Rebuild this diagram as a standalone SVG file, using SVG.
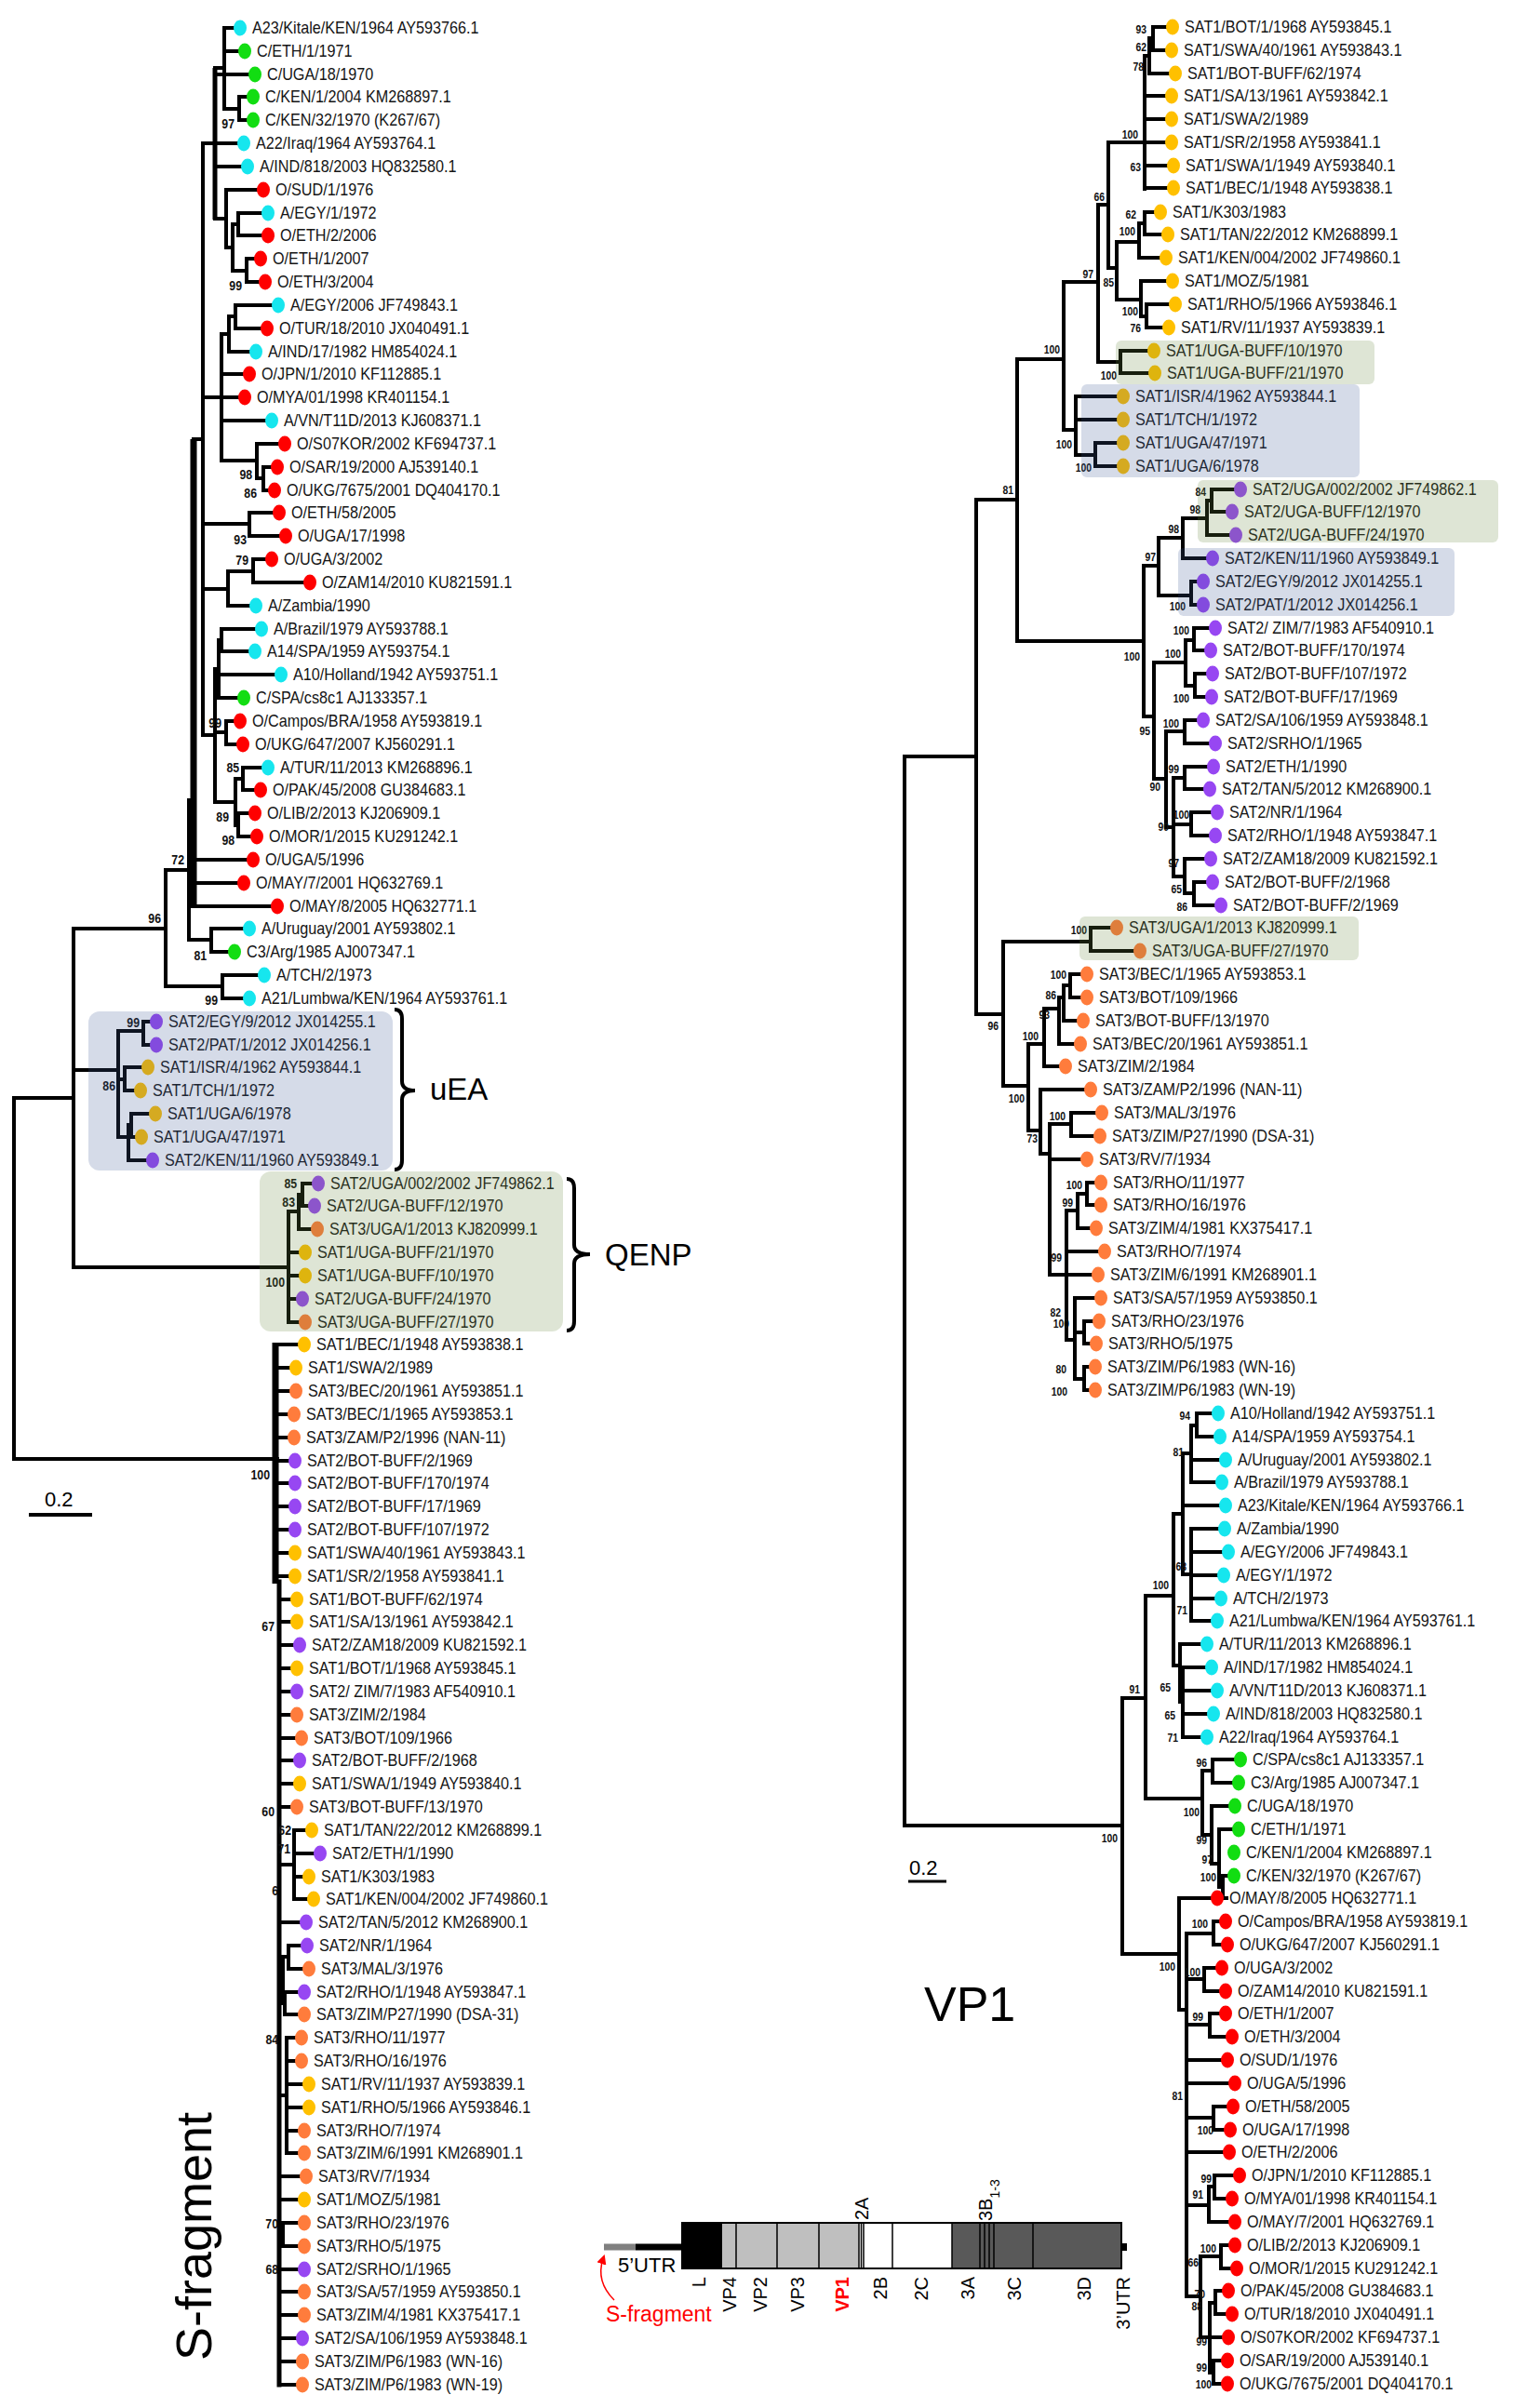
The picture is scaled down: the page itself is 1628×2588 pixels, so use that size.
<svg xmlns="http://www.w3.org/2000/svg" xmlns:xlink="http://www.w3.org/1999/xlink" width="1628" height="2588" viewBox="0 0 1628 2588">
<style>
text{font-family:"Liberation Sans",Arial,sans-serif}
.lf text{font-size:18px;fill:#151515;transform-box:fill-box;transform-origin:0 50%;transform:scaleX(.9)}
.bs{font-size:14.5px;font-weight:bold;text-anchor:end;fill:#111;transform-box:fill-box;transform-origin:100% 50%;transform:scaleX(.85)}
.bsr{font-size:13px;font-weight:bold;text-anchor:end;fill:#111;transform-box:fill-box;transform-origin:100% 50%;transform:scaleX(.8)}
.br{fill:none;stroke:#000;stroke-width:4;stroke-linecap:square}
.bk{fill:none;stroke:#000;stroke-width:7}
.cy{fill:#16e6ee}.gr{fill:#12dd12}.rd{fill:#ff0000}.pu{fill:#9747f2}.ye{fill:#ffc000}.or{fill:#ff7c3c}
.ub{fill:#3e5a96;fill-opacity:.22}
.qb{fill:#698a3e;fill-opacity:.22}
.gl{font-size:20px;fill:#000}
.big{font-size:33px;fill:#000}
.sec{stroke:#000;stroke-width:1.5}
</style>
<defs>
<ellipse id="d" rx="7" ry="8.5"/>
<marker id="ah" viewBox="0 0 10 10" refX="5" refY="5" markerWidth="7" markerHeight="7" orient="auto-start-reverse"><path d="M0 0L10 5L0 10z" fill="#ff0000"/></marker>
</defs>
<rect width="1628" height="2588" fill="#fff"/>

<g id="connectors">
<path class="br" d="M15 1180V1568M15 1180H79M15 1568H298M79 998V1362M79 998H178M79 1150H127M79 1362H310M178 935V1060M178 935H203M178 1060H239M239 1048V1073M239 1048H276M239 1073H260M203 860V1010M203 860H208M203 1010H227M227 998V1023M227 998H260M227 1023H244"/>
<path class="bk" d="M208 472V976"/>
<path class="br" d="M208 924H264M208 949H254M208 974H290M208 472H218M218 154V790M218 154H231M218 427H238M218 563H268M218 633H245M218 790H231"/>
<path class="bk" d="M231 73V236" style="stroke-width:5"/>
<path class="br" d="M231 73H241M231 80H266M231 154H254M231 179H258M231 235H243M241 30V117M241 30H250M241 55H255M241 117H257M257 104V129M257 104H264M257 129H264"/>
<path class="br" d="M243 204V266M243 204H275M243 266H250M250 241V291M250 241H256M256 229V253M256 229H280M256 253H280M250 291H265M265 278V303M265 278H272M265 303H277"/>
<path class="br" d="M238 359V495M238 359H246M246 340V378M246 340H253M253 328V353M253 328H291M253 353H279M246 378H267M238 402H260M238 427H255M238 452H284M238 495H276M276 477V514M276 477H298M276 514H283M283 502V527M283 502H290M283 527H287"/>
<path class="br" d="M268 551V576M268 551H292M268 576H299M245 614V651M245 614H272M272 601V626M272 601H284M272 626H325M245 651H267"/>
<path class="br" d="M231 719V862M231 719H235M235 688V750M235 688H238M238 676V700M238 676H273M238 700H266M235 725H294M235 750H254M231 787H243M243 775V800M243 775H250M243 800H253M231 862H253M253 837V887M253 837H261M261 825V849M261 825H280M261 849H272M253 887H256M256 874V899M256 874H266M256 899H268"/>
<path class="br" d="M127 1108V1222M127 1108H154M154 1098V1123M154 1098H160M154 1123H160M127 1160H134M134 1147V1172M134 1147H151M134 1172H143M127 1222H138M138 1209V1247M138 1209H141M141 1197V1222M141 1197H159M141 1222H144M138 1247H156"/>
<path class="br" d="M310 1302V1421M310 1302H321M321 1284V1321M321 1284H325M325 1272V1296M325 1272H334M325 1296H330M321 1321H333M310 1346H320M310 1371H320M310 1396H317M310 1421H320"/>
<path class="bk" d="M296 1443V1702"/>
<path class="br" d="M300 1700V2563" style="stroke-width:5"/>
<path class="br" d="M296 1445H319M296 1470H310M296 1495H310M296 1520H308M296 1545H308M296 1570H309M296 1594H309M296 1619H309M296 1644H309M296 1669H309M296 1694H309M300 1719H311M300 1743H311M300 1768H314M300 1793H311M300 1818H311M300 1843H311M300 1868H316M300 1892H314M300 1917H314M300 1942H311"/>
<path class="br" d="M300 2004H316M316 1967V2041M316 1967H327M316 1992H336M316 2017H324M316 2041H329M300 2066H321M300 2128H304M304 2103V2153M304 2103H310M310 2091V2116M310 2091H322M310 2116H324M304 2153H306M306 2141V2165M306 2141H319M306 2165H319"/>
<path class="br" d="M300 2252H308M308 2190V2314M308 2190H316M308 2215H316M308 2240H324M308 2265H324M308 2290H319M308 2314H319M300 2339H321M300 2364H319M300 2401H304M304 2389V2414M304 2389H319M304 2414H319M300 2439H319M300 2463H319M300 2488H319M300 2513H317M300 2538H317M300 2563H317"/>
<path class="br" d="M972 813V1962M972 813H1049M972 1962H1206M1049 537V1090M1049 537H1093M1049 1090H1078M1093 386V689M1093 386H1143M1093 689H1229M1143 303V462M1143 303H1180M1143 462H1156M1180 220V389M1180 220H1191M1180 389H1204M1191 153V288M1191 153H1230M1191 288H1200"/>
<path class="br" d="M1230 60V203M1230 60H1235M1235 41V79M1235 41H1239M1239 29V54M1239 29H1252M1239 54H1251M1235 79H1255M1230 103H1251M1230 128H1251M1230 153H1251M1230 178H1253M1230 202H1253"/>
<path class="br" d="M1200 260V322M1200 260H1224M1200 322H1226M1224 240V277M1224 240H1230M1230 228V252M1230 228H1239M1230 252H1247M1224 277H1245M1226 302V340M1226 302H1252M1226 340H1232M1232 327V352M1232 327H1255M1232 352H1248"/>
<path class="br" d="M1204 377V401M1204 377H1232M1204 401H1233M1156 426V489M1156 426H1199M1156 451H1199M1156 489H1177M1177 476V501M1177 476H1199M1177 501H1199"/>
<path class="br" d="M1229 608V770M1229 608H1245M1229 770H1240M1245 578V640M1245 578H1271M1245 640H1280M1271 557V600M1271 557H1297M1271 600H1295M1297 538V575M1297 538H1302M1297 575H1320M1302 526V550M1302 526H1325M1302 550H1316M1280 625V650M1280 625H1285M1280 650H1285"/>
<path class="br" d="M1240 712V837M1240 712H1274M1240 837H1253M1274 688V737M1274 688H1283M1274 737H1284M1283 675V699M1283 675H1298M1283 699H1293M1284 724V749M1284 724H1295M1284 749H1294M1253 786V889M1253 786H1273M1253 889H1261M1273 774V799M1273 774H1285M1273 799H1298M1261 836V942M1261 836H1273M1261 886H1280M1261 942H1273M1273 824V848M1273 824H1296M1273 848H1292M1280 873V898M1280 873H1300M1280 898H1298M1273 923V960M1273 923H1293M1273 960H1283M1283 948V973M1283 948H1295M1283 973H1304"/>
<path class="br" d="M1078 1012V1167M1078 1012H1172M1078 1167H1105M1172 997V1022M1172 997H1192M1172 1022H1217M1105 1122V1215M1105 1122H1122M1105 1215H1118M1122 1084V1146M1122 1084H1138M1122 1146H1137M1138 1072V1122M1138 1072H1143M1138 1122H1153M1143 1059V1097M1143 1059H1150M1143 1097H1156M1150 1047V1072M1150 1047H1160M1150 1072H1160"/>
<path class="br" d="M1118 1171V1240M1118 1171H1164M1118 1240H1128M1128 1208V1370M1128 1208H1151M1128 1246H1160M1128 1370H1146M1151 1196V1221M1151 1196H1176M1151 1221H1174M1146 1301V1440M1146 1301H1158M1146 1345H1179M1146 1370H1172M1146 1440H1155M1158 1283V1320M1158 1283H1168M1158 1320H1170M1168 1271V1295M1168 1271H1175M1168 1295H1175M1155 1395V1482M1155 1395H1175M1155 1432H1165M1155 1482H1165M1165 1420V1444M1165 1420H1173M1165 1444H1170M1165 1469V1494M1165 1469H1169M1165 1494H1169"/>
<path class="br" d="M1206 1825V2100M1206 1825H1231M1206 2100H1267M1231 1715V1933M1231 1715H1261M1231 1933H1292M1261 1627V1790M1261 1627H1271M1261 1790H1268M1271 1562V1692M1271 1562H1280M1271 1618H1309M1271 1692H1280M1280 1532V1593M1280 1532H1286M1280 1569H1309M1280 1593H1305M1286 1519V1544M1286 1519H1301M1286 1544H1303M1280 1643V1742M1280 1643H1308M1280 1668H1312M1280 1693H1307M1280 1718H1304M1280 1742H1300M1268 1767V1829M1268 1767H1289M1268 1829H1271M1271 1792V1867M1271 1792H1294M1271 1817H1300M1271 1842H1296M1271 1867H1289"/>
<path class="br" d="M1292 1903V1972M1292 1903H1303M1292 1972H1302M1303 1891V1916M1303 1891H1325M1303 1916H1323M1302 1941V2003M1302 1941H1319M1302 2003H1310M1310 1966V2028M1310 1966H1323M1310 2028H1314M1314 2016V2040M1314 2016H1318M1314 2040H1318"/>
<path class="br" d="M1267 2040V2160M1267 2040H1300M1267 2160H1275M1275 2078V2468M1275 2078H1304M1275 2127H1294M1275 2176H1300M1275 2214H1311M1275 2239H1319M1275 2276H1304M1275 2313H1313M1275 2370H1299M1275 2468H1290M1304 2065V2090M1304 2065H1309M1304 2090H1311M1294 2115V2140M1294 2115H1305M1294 2140H1309M1300 2164V2189M1300 2164H1309M1300 2189H1316M1304 2264V2289M1304 2264H1317M1304 2289H1314M1299 2350V2388M1299 2350H1305M1299 2388H1319M1305 2338V2363M1305 2338H1324M1305 2363H1316"/>
<path class="br" d="M1290 2425V2512M1290 2425H1312M1290 2512H1300M1312 2413V2438M1312 2413H1319M1312 2438H1321M1300 2475V2550M1300 2475H1306M1300 2512H1312M1300 2550H1304M1306 2462V2487M1306 2462H1312M1306 2487H1316M1304 2537V2562M1304 2537H1311M1304 2562H1311"/>
</g>

<g id="bootstrap-left">
<text class="bs" x="252" y="138">97</text><text class="bs" x="260" y="312">99</text><text class="bs" x="271" y="515">98</text><text class="bs" x="276" y="535">86</text><text class="bs" x="265" y="585">93</text><text class="bs" x="267" y="607">79</text><text class="bs" x="238" y="782">99</text><text class="bs" x="257" y="830">85</text><text class="bs" x="246" y="883">89</text><text class="bs" x="252" y="908">98</text><text class="bs" x="198" y="929">72</text><text class="bs" x="173" y="992">96</text><text class="bs" x="222" y="1032">81</text><text class="bs" x="234" y="1080">99</text>
<text class="bs" x="150" y="1104">99</text><text class="bs" x="124" y="1172">86</text><text class="bs" x="319" y="1277">85</text><text class="bs" x="317" y="1297">83</text><text class="bs" x="306" y="1383">100</text>
<text class="bs" x="290" y="1590">100</text><text class="bs" x="295" y="1753">67</text><text class="bs" x="295" y="1952">60</text><text class="bs" x="313" y="1972">62</text><text class="bs" x="312" y="1992">71</text><text class="bs" x="299" y="2037">6</text><text class="bs" x="299" y="2197">84</text><text class="bs" x="299" y="2395">70</text><text class="bs" x="299" y="2444">68</text>
</g>

<g id="bootstrap-right">
<text class="bsr" x="1232" y="36">93</text><text class="bsr" x="1232" y="55">62</text><text class="bsr" x="1229" y="76">78</text><text class="bsr" x="1223" y="149">100</text><text class="bsr" x="1226" y="184">63</text><text class="bsr" x="1187" y="216">66</text><text class="bsr" x="1221" y="235">62</text><text class="bsr" x="1220" y="253">100</text><text class="bsr" x="1175" y="299">97</text><text class="bsr" x="1197" y="308">85</text><text class="bsr" x="1223" y="339">100</text><text class="bsr" x="1226" y="357">76</text><text class="bsr" x="1139" y="380">100</text><text class="bsr" x="1200" y="408">100</text><text class="bsr" x="1152" y="482">100</text><text class="bsr" x="1173" y="507">100</text>
<text class="bsr" x="1089" y="531">81</text><text class="bsr" x="1296" y="533">84</text><text class="bsr" x="1290" y="552">98</text><text class="bsr" x="1267" y="573">98</text><text class="bsr" x="1242" y="603">97</text><text class="bsr" x="1274" y="656">100</text><text class="bsr" x="1278" y="682">100</text><text class="bsr" x="1225" y="710">100</text><text class="bsr" x="1269" y="707">100</text><text class="bsr" x="1278" y="755">100</text><text class="bsr" x="1267" y="782">100</text><text class="bsr" x="1236" y="790">95</text><text class="bsr" x="1267" y="831">99</text><text class="bsr" x="1247" y="850">90</text><text class="bsr" x="1278" y="880">100</text><text class="bsr" x="1256" y="893">90</text><text class="bsr" x="1267" y="932">97</text><text class="bsr" x="1270" y="960">65</text><text class="bsr" x="1276" y="979">86</text>
<text class="bsr" x="1168" y="1004">100</text><text class="bsr" x="1146" y="1052">100</text><text class="bsr" x="1135" y="1074">86</text><text class="bsr" x="1128" y="1095">93</text><text class="bsr" x="1073" y="1107">96</text><text class="bsr" x="1116" y="1118">100</text><text class="bsr" x="1101" y="1185">100</text><text class="bsr" x="1145" y="1204">100</text><text class="bsr" x="1115" y="1228">73</text><text class="bsr" x="1163" y="1278">100</text><text class="bsr" x="1153" y="1297">99</text><text class="bsr" x="1141" y="1356">99</text><text class="bsr" x="1140" y="1415">82</text><text class="bsr" x="1149" y="1427">100</text><text class="bsr" x="1146" y="1476">80</text><text class="bsr" x="1147" y="1500">100</text>
<text class="bsr" x="1279" y="1526">94</text><text class="bsr" x="1272" y="1565">81</text><text class="bsr" x="1275" y="1688">68</text><text class="bsr" x="1256" y="1708">100</text><text class="bsr" x="1276" y="1735">71</text><text class="bsr" x="1225" y="1820">91</text><text class="bsr" x="1258" y="1818">65</text><text class="bsr" x="1263" y="1848">65</text><text class="bsr" x="1266" y="1872">71</text><text class="bsr" x="1297" y="1899">96</text><text class="bsr" x="1289" y="1952">100</text><text class="bsr" x="1201" y="1980">100</text><text class="bsr" x="1297" y="1982">99</text><text class="bsr" x="1303" y="2003">97</text><text class="bsr" x="1307" y="2022">100</text>
<text class="bsr" x="1298" y="2072">100</text><text class="bsr" x="1263" y="2118">100</text><text class="bsr" x="1290" y="2124">100</text><text class="bsr" x="1293" y="2172">99</text><text class="bsr" x="1271" y="2257">81</text><text class="bsr" x="1304" y="2294">100</text><text class="bsr" x="1302" y="2346">99</text><text class="bsr" x="1293" y="2363">91</text><text class="bsr" x="1307" y="2421">100</text><text class="bsr" x="1288" y="2436">66</text><text class="bsr" x="1295" y="2470">70</text><text class="bsr" x="1292" y="2483">88</text><text class="bsr" x="1297" y="2521">99</text><text class="bsr" x="1297" y="2549">99</text><text class="bsr" x="1302" y="2567">100</text>
</g>

<g id="L1" class="lf cy"><use href="#d" x="258" y="30"/><text x="271" y="36">A23/Kitale/KEN/1964 AY593766.1</text></g>
<g id="L2" class="lf gr"><use href="#d" x="263" y="55"/><text x="276" y="61">C/ETH/1/1971</text></g>
<g id="L3" class="lf gr"><use href="#d" x="274" y="80"/><text x="287" y="86">C/UGA/18/1970</text></g>
<g id="L4" class="lf gr"><use href="#d" x="272" y="104"/><text x="285" y="110">C/KEN/1/2004 KM268897.1</text></g>
<g id="L5" class="lf gr"><use href="#d" x="272" y="129"/><text x="285" y="135">C/KEN/32/1970 (K267/67)</text></g>
<g id="L6" class="lf cy"><use href="#d" x="262" y="154"/><text x="275" y="160">A22/Iraq/1964 AY593764.1</text></g>
<g id="L7" class="lf cy"><use href="#d" x="266" y="179"/><text x="279" y="185">A/IND/818/2003 HQ832580.1</text></g>
<g id="L8" class="lf rd"><use href="#d" x="283" y="204"/><text x="296" y="210">O/SUD/1/1976</text></g>
<g id="L9" class="lf cy"><use href="#d" x="288" y="229"/><text x="301" y="235">A/EGY/1/1972</text></g>
<g id="L10" class="lf rd"><use href="#d" x="288" y="253"/><text x="301" y="259">O/ETH/2/2006</text></g>
<g id="L11" class="lf rd"><use href="#d" x="280" y="278"/><text x="293" y="284">O/ETH/1/2007</text></g>
<g id="L12" class="lf rd"><use href="#d" x="285" y="303"/><text x="298" y="309">O/ETH/3/2004</text></g>
<g id="L13" class="lf cy"><use href="#d" x="299" y="328"/><text x="312" y="334">A/EGY/2006 JF749843.1</text></g>
<g id="L14" class="lf rd"><use href="#d" x="287" y="353"/><text x="300" y="359">O/TUR/18/2010 JX040491.1</text></g>
<g id="L15" class="lf cy"><use href="#d" x="275" y="378"/><text x="288" y="384">A/IND/17/1982 HM854024.1</text></g>
<g id="L16" class="lf rd"><use href="#d" x="268" y="402"/><text x="281" y="408">O/JPN/1/2010 KF112885.1</text></g>
<g id="L17" class="lf rd"><use href="#d" x="263" y="427"/><text x="276" y="433">O/MYA/01/1998 KR401154.1</text></g>
<g id="L18" class="lf cy"><use href="#d" x="292" y="452"/><text x="305" y="458">A/VN/T11D/2013 KJ608371.1</text></g>
<g id="L19" class="lf rd"><use href="#d" x="306" y="477"/><text x="319" y="483">O/S07KOR/2002 KF694737.1</text></g>
<g id="L20" class="lf rd"><use href="#d" x="298" y="502"/><text x="311" y="508">O/SAR/19/2000 AJ539140.1</text></g>
<g id="L21" class="lf rd"><use href="#d" x="295" y="527"/><text x="308" y="533">O/UKG/7675/2001 DQ404170.1</text></g>
<g id="L22" class="lf rd"><use href="#d" x="300" y="551"/><text x="313" y="557">O/ETH/58/2005</text></g>
<g id="L23" class="lf rd"><use href="#d" x="307" y="576"/><text x="320" y="582">O/UGA/17/1998</text></g>
<g id="L24" class="lf rd"><use href="#d" x="292" y="601"/><text x="305" y="607">O/UGA/3/2002</text></g>
<g id="L25" class="lf rd"><use href="#d" x="333" y="626"/><text x="346" y="632">O/ZAM14/2010 KU821591.1</text></g>
<g id="L26" class="lf cy"><use href="#d" x="275" y="651"/><text x="288" y="657">A/Zambia/1990</text></g>
<g id="L27" class="lf cy"><use href="#d" x="281" y="676"/><text x="294" y="682">A/Brazil/1979 AY593788.1</text></g>
<g id="L28" class="lf cy"><use href="#d" x="274" y="700"/><text x="287" y="706">A14/SPA/1959 AY593754.1</text></g>
<g id="L29" class="lf cy"><use href="#d" x="302" y="725"/><text x="315" y="731">A10/Holland/1942 AY593751.1</text></g>
<g id="L30" class="lf gr"><use href="#d" x="262" y="750"/><text x="275" y="756">C/SPA/cs8c1 AJ133357.1</text></g>
<g id="L31" class="lf rd"><use href="#d" x="258" y="775"/><text x="271" y="781">O/Campos/BRA/1958 AY593819.1</text></g>
<g id="L32" class="lf rd"><use href="#d" x="261" y="800"/><text x="274" y="806">O/UKG/647/2007 KJ560291.1</text></g>
<g id="L33" class="lf cy"><use href="#d" x="288" y="825"/><text x="301" y="831">A/TUR/11/2013 KM268896.1</text></g>
<g id="L34" class="lf rd"><use href="#d" x="280" y="849"/><text x="293" y="855">O/PAK/45/2008 GU384683.1</text></g>
<g id="L35" class="lf rd"><use href="#d" x="274" y="874"/><text x="287" y="880">O/LIB/2/2013 KJ206909.1</text></g>
<g id="L36" class="lf rd"><use href="#d" x="276" y="899"/><text x="289" y="905">O/MOR/1/2015 KU291242.1</text></g>
<g id="L37" class="lf rd"><use href="#d" x="272" y="924"/><text x="285" y="930">O/UGA/5/1996</text></g>
<g id="L38" class="lf rd"><use href="#d" x="262" y="949"/><text x="275" y="955">O/MAY/7/2001 HQ632769.1</text></g>
<g id="L39" class="lf rd"><use href="#d" x="298" y="974"/><text x="311" y="980">O/MAY/8/2005 HQ632771.1</text></g>
<g id="L40" class="lf cy"><use href="#d" x="268" y="998"/><text x="281" y="1004">A/Uruguay/2001 AY593802.1</text></g>
<g id="L41" class="lf gr"><use href="#d" x="252" y="1023"/><text x="265" y="1029">C3/Arg/1985 AJ007347.1</text></g>
<g id="L42" class="lf cy"><use href="#d" x="284" y="1048"/><text x="297" y="1054">A/TCH/2/1973</text></g>
<g id="L43" class="lf cy"><use href="#d" x="268" y="1073"/><text x="281" y="1079">A21/Lumbwa/KEN/1964 AY593761.1</text></g>
<g id="L44" class="lf pu"><use href="#d" x="168" y="1098"/><text x="181" y="1104">SAT2/EGY/9/2012 JX014255.1</text></g>
<g id="L45" class="lf pu"><use href="#d" x="168" y="1123"/><text x="181" y="1129">SAT2/PAT/1/2012 JX014256.1</text></g>
<g id="L46" class="lf ye"><use href="#d" x="159" y="1147"/><text x="172" y="1153">SAT1/ISR/4/1962 AY593844.1</text></g>
<g id="L47" class="lf ye"><use href="#d" x="151" y="1172"/><text x="164" y="1178">SAT1/TCH/1/1972</text></g>
<g id="L48" class="lf ye"><use href="#d" x="167" y="1197"/><text x="180" y="1203">SAT1/UGA/6/1978</text></g>
<g id="L49" class="lf ye"><use href="#d" x="152" y="1222"/><text x="165" y="1228">SAT1/UGA/47/1971</text></g>
<g id="L50" class="lf pu"><use href="#d" x="164" y="1247"/><text x="177" y="1253">SAT2/KEN/11/1960 AY593849.1</text></g>
<g id="L51" class="lf pu"><use href="#d" x="342" y="1272"/><text x="355" y="1278">SAT2/UGA/002/2002 JF749862.1</text></g>
<g id="L52" class="lf pu"><use href="#d" x="338" y="1296"/><text x="351" y="1302">SAT2/UGA-BUFF/12/1970</text></g>
<g id="L53" class="lf or"><use href="#d" x="341" y="1321"/><text x="354" y="1327">SAT3/UGA/1/2013 KJ820999.1</text></g>
<g id="L54" class="lf ye"><use href="#d" x="328" y="1346"/><text x="341" y="1352">SAT1/UGA-BUFF/21/1970</text></g>
<g id="L55" class="lf ye"><use href="#d" x="328" y="1371"/><text x="341" y="1377">SAT1/UGA-BUFF/10/1970</text></g>
<g id="L56" class="lf pu"><use href="#d" x="325" y="1396"/><text x="338" y="1402">SAT2/UGA-BUFF/24/1970</text></g>
<g id="L57" class="lf or"><use href="#d" x="328" y="1421"/><text x="341" y="1427">SAT3/UGA-BUFF/27/1970</text></g>
<g id="L58" class="lf ye"><use href="#d" x="327" y="1445"/><text x="340" y="1451">SAT1/BEC/1/1948 AY593838.1</text></g>
<g id="L59" class="lf ye"><use href="#d" x="318" y="1470"/><text x="331" y="1476">SAT1/SWA/2/1989</text></g>
<g id="L60" class="lf or"><use href="#d" x="318" y="1495"/><text x="331" y="1501">SAT3/BEC/20/1961 AY593851.1</text></g>
<g id="L61" class="lf or"><use href="#d" x="316" y="1520"/><text x="329" y="1526">SAT3/BEC/1/1965 AY593853.1</text></g>
<g id="L62" class="lf or"><use href="#d" x="316" y="1545"/><text x="329" y="1551">SAT3/ZAM/P2/1996 (NAN-11)</text></g>
<g id="L63" class="lf pu"><use href="#d" x="317" y="1570"/><text x="330" y="1576">SAT2/BOT-BUFF/2/1969</text></g>
<g id="L64" class="lf pu"><use href="#d" x="317" y="1594"/><text x="330" y="1600">SAT2/BOT-BUFF/170/1974</text></g>
<g id="L65" class="lf pu"><use href="#d" x="317" y="1619"/><text x="330" y="1625">SAT2/BOT-BUFF/17/1969</text></g>
<g id="L66" class="lf pu"><use href="#d" x="317" y="1644"/><text x="330" y="1650">SAT2/BOT-BUFF/107/1972</text></g>
<g id="L67" class="lf ye"><use href="#d" x="317" y="1669"/><text x="330" y="1675">SAT1/SWA/40/1961 AY593843.1</text></g>
<g id="L68" class="lf ye"><use href="#d" x="317" y="1694"/><text x="330" y="1700">SAT1/SR/2/1958 AY593841.1</text></g>
<g id="L69" class="lf ye"><use href="#d" x="319" y="1719"/><text x="332" y="1725">SAT1/BOT-BUFF/62/1974</text></g>
<g id="L70" class="lf ye"><use href="#d" x="319" y="1743"/><text x="332" y="1749">SAT1/SA/13/1961 AY593842.1</text></g>
<g id="L71" class="lf pu"><use href="#d" x="322" y="1768"/><text x="335" y="1774">SAT2/ZAM18/2009 KU821592.1</text></g>
<g id="L72" class="lf ye"><use href="#d" x="319" y="1793"/><text x="332" y="1799">SAT1/BOT/1/1968 AY593845.1</text></g>
<g id="L73" class="lf pu"><use href="#d" x="319" y="1818"/><text x="332" y="1824">SAT2/ ZIM/7/1983 AF540910.1</text></g>
<g id="L74" class="lf or"><use href="#d" x="319" y="1843"/><text x="332" y="1849">SAT3/ZIM/2/1984</text></g>
<g id="L75" class="lf or"><use href="#d" x="324" y="1868"/><text x="337" y="1874">SAT3/BOT/109/1966</text></g>
<g id="L76" class="lf pu"><use href="#d" x="322" y="1892"/><text x="335" y="1898">SAT2/BOT-BUFF/2/1968</text></g>
<g id="L77" class="lf ye"><use href="#d" x="322" y="1917"/><text x="335" y="1923">SAT1/SWA/1/1949 AY593840.1</text></g>
<g id="L78" class="lf or"><use href="#d" x="319" y="1942"/><text x="332" y="1948">SAT3/BOT-BUFF/13/1970</text></g>
<g id="L79" class="lf ye"><use href="#d" x="335" y="1967"/><text x="348" y="1973">SAT1/TAN/22/2012 KM268899.1</text></g>
<g id="L80" class="lf pu"><use href="#d" x="344" y="1992"/><text x="357" y="1998">SAT2/ETH/1/1990</text></g>
<g id="L81" class="lf ye"><use href="#d" x="332" y="2017"/><text x="345" y="2023">SAT1/K303/1983</text></g>
<g id="L82" class="lf ye"><use href="#d" x="337" y="2041"/><text x="350" y="2047">SAT1/KEN/004/2002 JF749860.1</text></g>
<g id="L83" class="lf pu"><use href="#d" x="329" y="2066"/><text x="342" y="2072">SAT2/TAN/5/2012 KM268900.1</text></g>
<g id="L84" class="lf pu"><use href="#d" x="330" y="2091"/><text x="343" y="2097">SAT2/NR/1/1964</text></g>
<g id="L85" class="lf or"><use href="#d" x="332" y="2116"/><text x="345" y="2122">SAT3/MAL/3/1976</text></g>
<g id="L86" class="lf pu"><use href="#d" x="327" y="2141"/><text x="340" y="2147">SAT2/RHO/1/1948 AY593847.1</text></g>
<g id="L87" class="lf or"><use href="#d" x="327" y="2165"/><text x="340" y="2171">SAT3/ZIM/P27/1990 (DSA-31)</text></g>
<g id="L88" class="lf or"><use href="#d" x="324" y="2190"/><text x="337" y="2196">SAT3/RHO/11/1977</text></g>
<g id="L89" class="lf or"><use href="#d" x="324" y="2215"/><text x="337" y="2221">SAT3/RHO/16/1976</text></g>
<g id="L90" class="lf ye"><use href="#d" x="332" y="2240"/><text x="345" y="2246">SAT1/RV/11/1937 AY593839.1</text></g>
<g id="L91" class="lf ye"><use href="#d" x="332" y="2265"/><text x="345" y="2271">SAT1/RHO/5/1966 AY593846.1</text></g>
<g id="L92" class="lf or"><use href="#d" x="327" y="2290"/><text x="340" y="2296">SAT3/RHO/7/1974</text></g>
<g id="L93" class="lf or"><use href="#d" x="327" y="2314"/><text x="340" y="2320">SAT3/ZIM/6/1991 KM268901.1</text></g>
<g id="L94" class="lf or"><use href="#d" x="329" y="2339"/><text x="342" y="2345">SAT3/RV/7/1934</text></g>
<g id="L95" class="lf ye"><use href="#d" x="327" y="2364"/><text x="340" y="2370">SAT1/MOZ/5/1981</text></g>
<g id="L96" class="lf or"><use href="#d" x="327" y="2389"/><text x="340" y="2395">SAT3/RHO/23/1976</text></g>
<g id="L97" class="lf or"><use href="#d" x="327" y="2414"/><text x="340" y="2420">SAT3/RHO/5/1975</text></g>
<g id="L98" class="lf pu"><use href="#d" x="327" y="2439"/><text x="340" y="2445">SAT2/SRHO/1/1965</text></g>
<g id="L99" class="lf or"><use href="#d" x="327" y="2463"/><text x="340" y="2469">SAT3/SA/57/1959 AY593850.1</text></g>
<g id="L100" class="lf or"><use href="#d" x="327" y="2488"/><text x="340" y="2494">SAT3/ZIM/4/1981 KX375417.1</text></g>
<g id="L101" class="lf pu"><use href="#d" x="325" y="2513"/><text x="338" y="2519">SAT2/SA/106/1959 AY593848.1</text></g>
<g id="L102" class="lf or"><use href="#d" x="325" y="2538"/><text x="338" y="2544">SAT3/ZIM/P6/1983 (WN-16)</text></g>
<g id="L103" class="lf or"><use href="#d" x="325" y="2563"/><text x="338" y="2569">SAT3/ZIM/P6/1983 (WN-19)</text></g>

<g id="R1" class="lf ye"><use href="#d" x="1260" y="29"/><text x="1273" y="35">SAT1/BOT/1/1968 AY593845.1</text></g>
<g id="R2" class="lf ye"><use href="#d" x="1259" y="54"/><text x="1272" y="60">SAT1/SWA/40/1961 AY593843.1</text></g>
<g id="R3" class="lf ye"><use href="#d" x="1263" y="79"/><text x="1276" y="85">SAT1/BOT-BUFF/62/1974</text></g>
<g id="R4" class="lf ye"><use href="#d" x="1259" y="103"/><text x="1272" y="109">SAT1/SA/13/1961 AY593842.1</text></g>
<g id="R5" class="lf ye"><use href="#d" x="1259" y="128"/><text x="1272" y="134">SAT1/SWA/2/1989</text></g>
<g id="R6" class="lf ye"><use href="#d" x="1259" y="153"/><text x="1272" y="159">SAT1/SR/2/1958 AY593841.1</text></g>
<g id="R7" class="lf ye"><use href="#d" x="1261" y="178"/><text x="1274" y="184">SAT1/SWA/1/1949 AY593840.1</text></g>
<g id="R8" class="lf ye"><use href="#d" x="1261" y="202"/><text x="1274" y="208">SAT1/BEC/1/1948 AY593838.1</text></g>
<g id="R9" class="lf ye"><use href="#d" x="1247" y="228"/><text x="1260" y="234">SAT1/K303/1983</text></g>
<g id="R10" class="lf ye"><use href="#d" x="1255" y="252"/><text x="1268" y="258">SAT1/TAN/22/2012 KM268899.1</text></g>
<g id="R11" class="lf ye"><use href="#d" x="1253" y="277"/><text x="1266" y="283">SAT1/KEN/004/2002 JF749860.1</text></g>
<g id="R12" class="lf ye"><use href="#d" x="1260" y="302"/><text x="1273" y="308">SAT1/MOZ/5/1981</text></g>
<g id="R13" class="lf ye"><use href="#d" x="1263" y="327"/><text x="1276" y="333">SAT1/RHO/5/1966 AY593846.1</text></g>
<g id="R14" class="lf ye"><use href="#d" x="1256" y="352"/><text x="1269" y="358">SAT1/RV/11/1937 AY593839.1</text></g>
<g id="R15" class="lf ye"><use href="#d" x="1240" y="377"/><text x="1253" y="383">SAT1/UGA-BUFF/10/1970</text></g>
<g id="R16" class="lf ye"><use href="#d" x="1241" y="401"/><text x="1254" y="407">SAT1/UGA-BUFF/21/1970</text></g>
<g id="R17" class="lf ye"><use href="#d" x="1207" y="426"/><text x="1220" y="432">SAT1/ISR/4/1962 AY593844.1</text></g>
<g id="R18" class="lf ye"><use href="#d" x="1207" y="451"/><text x="1220" y="457">SAT1/TCH/1/1972</text></g>
<g id="R19" class="lf ye"><use href="#d" x="1207" y="476"/><text x="1220" y="482">SAT1/UGA/47/1971</text></g>
<g id="R20" class="lf ye"><use href="#d" x="1207" y="501"/><text x="1220" y="507">SAT1/UGA/6/1978</text></g>
<g id="R21" class="lf pu"><use href="#d" x="1333" y="526"/><text x="1346" y="532">SAT2/UGA/002/2002 JF749862.1</text></g>
<g id="R22" class="lf pu"><use href="#d" x="1324" y="550"/><text x="1337" y="556">SAT2/UGA-BUFF/12/1970</text></g>
<g id="R23" class="lf pu"><use href="#d" x="1328" y="575"/><text x="1341" y="581">SAT2/UGA-BUFF/24/1970</text></g>
<g id="R24" class="lf pu"><use href="#d" x="1303" y="600"/><text x="1316" y="606">SAT2/KEN/11/1960 AY593849.1</text></g>
<g id="R25" class="lf pu"><use href="#d" x="1293" y="625"/><text x="1306" y="631">SAT2/EGY/9/2012 JX014255.1</text></g>
<g id="R26" class="lf pu"><use href="#d" x="1293" y="650"/><text x="1306" y="656">SAT2/PAT/1/2012 JX014256.1</text></g>
<g id="R27" class="lf pu"><use href="#d" x="1306" y="675"/><text x="1319" y="681">SAT2/ ZIM/7/1983 AF540910.1</text></g>
<g id="R28" class="lf pu"><use href="#d" x="1301" y="699"/><text x="1314" y="705">SAT2/BOT-BUFF/170/1974</text></g>
<g id="R29" class="lf pu"><use href="#d" x="1303" y="724"/><text x="1316" y="730">SAT2/BOT-BUFF/107/1972</text></g>
<g id="R30" class="lf pu"><use href="#d" x="1302" y="749"/><text x="1315" y="755">SAT2/BOT-BUFF/17/1969</text></g>
<g id="R31" class="lf pu"><use href="#d" x="1293" y="774"/><text x="1306" y="780">SAT2/SA/106/1959 AY593848.1</text></g>
<g id="R32" class="lf pu"><use href="#d" x="1306" y="799"/><text x="1319" y="805">SAT2/SRHO/1/1965</text></g>
<g id="R33" class="lf pu"><use href="#d" x="1304" y="824"/><text x="1317" y="830">SAT2/ETH/1/1990</text></g>
<g id="R34" class="lf pu"><use href="#d" x="1300" y="848"/><text x="1313" y="854">SAT2/TAN/5/2012 KM268900.1</text></g>
<g id="R35" class="lf pu"><use href="#d" x="1308" y="873"/><text x="1321" y="879">SAT2/NR/1/1964</text></g>
<g id="R36" class="lf pu"><use href="#d" x="1306" y="898"/><text x="1319" y="904">SAT2/RHO/1/1948 AY593847.1</text></g>
<g id="R37" class="lf pu"><use href="#d" x="1301" y="923"/><text x="1314" y="929">SAT2/ZAM18/2009 KU821592.1</text></g>
<g id="R38" class="lf pu"><use href="#d" x="1303" y="948"/><text x="1316" y="954">SAT2/BOT-BUFF/2/1968</text></g>
<g id="R39" class="lf pu"><use href="#d" x="1312" y="973"/><text x="1325" y="979">SAT2/BOT-BUFF/2/1969</text></g>
<g id="R40" class="lf or"><use href="#d" x="1200" y="997"/><text x="1213" y="1003">SAT3/UGA/1/2013 KJ820999.1</text></g>
<g id="R41" class="lf or"><use href="#d" x="1225" y="1022"/><text x="1238" y="1028">SAT3/UGA-BUFF/27/1970</text></g>
<g id="R42" class="lf or"><use href="#d" x="1168" y="1047"/><text x="1181" y="1053">SAT3/BEC/1/1965 AY593853.1</text></g>
<g id="R43" class="lf or"><use href="#d" x="1168" y="1072"/><text x="1181" y="1078">SAT3/BOT/109/1966</text></g>
<g id="R44" class="lf or"><use href="#d" x="1164" y="1097"/><text x="1177" y="1103">SAT3/BOT-BUFF/13/1970</text></g>
<g id="R45" class="lf or"><use href="#d" x="1161" y="1122"/><text x="1174" y="1128">SAT3/BEC/20/1961 AY593851.1</text></g>
<g id="R46" class="lf or"><use href="#d" x="1145" y="1146"/><text x="1158" y="1152">SAT3/ZIM/2/1984</text></g>
<g id="R47" class="lf or"><use href="#d" x="1172" y="1171"/><text x="1185" y="1177">SAT3/ZAM/P2/1996 (NAN-11)</text></g>
<g id="R48" class="lf or"><use href="#d" x="1184" y="1196"/><text x="1197" y="1202">SAT3/MAL/3/1976</text></g>
<g id="R49" class="lf or"><use href="#d" x="1182" y="1221"/><text x="1195" y="1227">SAT3/ZIM/P27/1990 (DSA-31)</text></g>
<g id="R50" class="lf or"><use href="#d" x="1168" y="1246"/><text x="1181" y="1252">SAT3/RV/7/1934</text></g>
<g id="R51" class="lf or"><use href="#d" x="1183" y="1271"/><text x="1196" y="1277">SAT3/RHO/11/1977</text></g>
<g id="R52" class="lf or"><use href="#d" x="1183" y="1295"/><text x="1196" y="1301">SAT3/RHO/16/1976</text></g>
<g id="R53" class="lf or"><use href="#d" x="1178" y="1320"/><text x="1191" y="1326">SAT3/ZIM/4/1981 KX375417.1</text></g>
<g id="R54" class="lf or"><use href="#d" x="1187" y="1345"/><text x="1200" y="1351">SAT3/RHO/7/1974</text></g>
<g id="R55" class="lf or"><use href="#d" x="1180" y="1370"/><text x="1193" y="1376">SAT3/ZIM/6/1991 KM268901.1</text></g>
<g id="R56" class="lf or"><use href="#d" x="1183" y="1395"/><text x="1196" y="1401">SAT3/SA/57/1959 AY593850.1</text></g>
<g id="R57" class="lf or"><use href="#d" x="1181" y="1420"/><text x="1194" y="1426">SAT3/RHO/23/1976</text></g>
<g id="R58" class="lf or"><use href="#d" x="1178" y="1444"/><text x="1191" y="1450">SAT3/RHO/5/1975</text></g>
<g id="R59" class="lf or"><use href="#d" x="1177" y="1469"/><text x="1190" y="1475">SAT3/ZIM/P6/1983 (WN-16)</text></g>
<g id="R60" class="lf or"><use href="#d" x="1177" y="1494"/><text x="1190" y="1500">SAT3/ZIM/P6/1983 (WN-19)</text></g>
<g id="R61" class="lf cy"><use href="#d" x="1309" y="1519"/><text x="1322" y="1525">A10/Holland/1942 AY593751.1</text></g>
<g id="R62" class="lf cy"><use href="#d" x="1311" y="1544"/><text x="1324" y="1550">A14/SPA/1959 AY593754.1</text></g>
<g id="R63" class="lf cy"><use href="#d" x="1317" y="1569"/><text x="1330" y="1575">A/Uruguay/2001 AY593802.1</text></g>
<g id="R64" class="lf cy"><use href="#d" x="1313" y="1593"/><text x="1326" y="1599">A/Brazil/1979 AY593788.1</text></g>
<g id="R65" class="lf cy"><use href="#d" x="1317" y="1618"/><text x="1330" y="1624">A23/Kitale/KEN/1964 AY593766.1</text></g>
<g id="R66" class="lf cy"><use href="#d" x="1316" y="1643"/><text x="1329" y="1649">A/Zambia/1990</text></g>
<g id="R67" class="lf cy"><use href="#d" x="1320" y="1668"/><text x="1333" y="1674">A/EGY/2006 JF749843.1</text></g>
<g id="R68" class="lf cy"><use href="#d" x="1315" y="1693"/><text x="1328" y="1699">A/EGY/1/1972</text></g>
<g id="R69" class="lf cy"><use href="#d" x="1312" y="1718"/><text x="1325" y="1724">A/TCH/2/1973</text></g>
<g id="R70" class="lf cy"><use href="#d" x="1308" y="1742"/><text x="1321" y="1748">A21/Lumbwa/KEN/1964 AY593761.1</text></g>
<g id="R71" class="lf cy"><use href="#d" x="1297" y="1767"/><text x="1310" y="1773">A/TUR/11/2013 KM268896.1</text></g>
<g id="R72" class="lf cy"><use href="#d" x="1302" y="1792"/><text x="1315" y="1798">A/IND/17/1982 HM854024.1</text></g>
<g id="R73" class="lf cy"><use href="#d" x="1308" y="1817"/><text x="1321" y="1823">A/VN/T11D/2013 KJ608371.1</text></g>
<g id="R74" class="lf cy"><use href="#d" x="1304" y="1842"/><text x="1317" y="1848">A/IND/818/2003 HQ832580.1</text></g>
<g id="R75" class="lf cy"><use href="#d" x="1297" y="1867"/><text x="1310" y="1873">A22/Iraq/1964 AY593764.1</text></g>
<g id="R76" class="lf gr"><use href="#d" x="1333" y="1891"/><text x="1346" y="1897">C/SPA/cs8c1 AJ133357.1</text></g>
<g id="R77" class="lf gr"><use href="#d" x="1331" y="1916"/><text x="1344" y="1922">C3/Arg/1985 AJ007347.1</text></g>
<g id="R78" class="lf gr"><use href="#d" x="1327" y="1941"/><text x="1340" y="1947">C/UGA/18/1970</text></g>
<g id="R79" class="lf gr"><use href="#d" x="1331" y="1966"/><text x="1344" y="1972">C/ETH/1/1971</text></g>
<g id="R80" class="lf gr"><use href="#d" x="1326" y="1991"/><text x="1339" y="1997">C/KEN/1/2004 KM268897.1</text></g>
<g id="R81" class="lf gr"><use href="#d" x="1326" y="2016"/><text x="1339" y="2022">C/KEN/32/1970 (K267/67)</text></g>
<g id="R82" class="lf rd"><use href="#d" x="1308" y="2040"/><text x="1321" y="2046">O/MAY/8/2005 HQ632771.1</text></g>
<g id="R83" class="lf rd"><use href="#d" x="1317" y="2065"/><text x="1330" y="2071">O/Campos/BRA/1958 AY593819.1</text></g>
<g id="R84" class="lf rd"><use href="#d" x="1319" y="2090"/><text x="1332" y="2096">O/UKG/647/2007 KJ560291.1</text></g>
<g id="R85" class="lf rd"><use href="#d" x="1313" y="2115"/><text x="1326" y="2121">O/UGA/3/2002</text></g>
<g id="R86" class="lf rd"><use href="#d" x="1317" y="2140"/><text x="1330" y="2146">O/ZAM14/2010 KU821591.1</text></g>
<g id="R87" class="lf rd"><use href="#d" x="1317" y="2164"/><text x="1330" y="2170">O/ETH/1/2007</text></g>
<g id="R88" class="lf rd"><use href="#d" x="1324" y="2189"/><text x="1337" y="2195">O/ETH/3/2004</text></g>
<g id="R89" class="lf rd"><use href="#d" x="1319" y="2214"/><text x="1332" y="2220">O/SUD/1/1976</text></g>
<g id="R90" class="lf rd"><use href="#d" x="1327" y="2239"/><text x="1340" y="2245">O/UGA/5/1996</text></g>
<g id="R91" class="lf rd"><use href="#d" x="1325" y="2264"/><text x="1338" y="2270">O/ETH/58/2005</text></g>
<g id="R92" class="lf rd"><use href="#d" x="1322" y="2289"/><text x="1335" y="2295">O/UGA/17/1998</text></g>
<g id="R93" class="lf rd"><use href="#d" x="1321" y="2313"/><text x="1334" y="2319">O/ETH/2/2006</text></g>
<g id="R94" class="lf rd"><use href="#d" x="1332" y="2338"/><text x="1345" y="2344">O/JPN/1/2010 KF112885.1</text></g>
<g id="R95" class="lf rd"><use href="#d" x="1324" y="2363"/><text x="1337" y="2369">O/MYA/01/1998 KR401154.1</text></g>
<g id="R96" class="lf rd"><use href="#d" x="1327" y="2388"/><text x="1340" y="2394">O/MAY/7/2001 HQ632769.1</text></g>
<g id="R97" class="lf rd"><use href="#d" x="1327" y="2413"/><text x="1340" y="2419">O/LIB/2/2013 KJ206909.1</text></g>
<g id="R98" class="lf rd"><use href="#d" x="1329" y="2438"/><text x="1342" y="2444">O/MOR/1/2015 KU291242.1</text></g>
<g id="R99" class="lf rd"><use href="#d" x="1320" y="2462"/><text x="1333" y="2468">O/PAK/45/2008 GU384683.1</text></g>
<g id="R100" class="lf rd"><use href="#d" x="1324" y="2487"/><text x="1337" y="2493">O/TUR/18/2010 JX040491.1</text></g>
<g id="R101" class="lf rd"><use href="#d" x="1320" y="2512"/><text x="1333" y="2518">O/S07KOR/2002 KF694737.1</text></g>
<g id="R102" class="lf rd"><use href="#d" x="1319" y="2537"/><text x="1332" y="2543">O/SAR/19/2000 AJ539140.1</text></g>
<g id="R103" class="lf rd"><use href="#d" x="1319" y="2562"/><text x="1332" y="2568">O/UKG/7675/2001 DQ404170.1</text></g>

<g id="boxes">
<rect class="ub" x="95" y="1087" width="327" height="171" rx="12"/>
<rect class="qb" x="279" y="1259" width="326" height="172" rx="12"/>
<rect class="qb" x="1199" y="366" width="278" height="47" rx="6"/>
<rect class="ub" x="1162" y="413" width="299" height="100" rx="6"/>
<rect class="qb" x="1287" y="516" width="323" height="67" rx="6"/>
<rect class="ub" x="1266" y="589" width="297" height="73" rx="6"/>
<rect class="qb" x="1160" y="985" width="300" height="47" rx="6"/>
</g>

<g id="brace-uEA">
<path d="M424 1085Q432 1085 432 1095V1162Q432 1172 446 1172Q432 1172 432 1182V1247Q432 1257 424 1257" fill="none" stroke="#000" stroke-width="4"/>
<text class="big" x="462" y="1182">uEA</text>
</g>
<g id="brace-QENP">
<path d="M609 1267Q617 1267 617 1277V1338Q617 1348 634 1348Q617 1348 617 1358V1420Q617 1430 609 1430" fill="none" stroke="#000" stroke-width="4"/>
<text class="big" x="650" y="1360">QENP</text>
</g>

<g id="scale-left">
<text x="48" y="1619" font-size="22" fill="#000">0.2</text>
<path d="M31 1628H99" stroke="#000" stroke-width="4"/>
</g>
<g id="scale-right">
<text x="977" y="2015" font-size="22" fill="#000">0.2</text>
<path d="M976 2022H1017" stroke="#000" stroke-width="3"/>
</g>

<text id="title-sfrag" transform="translate(227 2537) rotate(-90)" font-size="54" fill="#000">S-fragment</text>
<text id="title-vp1" x="993" y="2172" font-size="52" fill="#000">VP1</text>

<g id="genome">
<path d="M649 2415H683" stroke="#808080" stroke-width="7"/>
<path d="M683 2415H733" stroke="#000" stroke-width="7"/>
<rect x="1205" y="2411" width="6" height="8" fill="#000"/>
<rect x="733" y="2389" width="43" height="49" fill="#000"/>
<rect x="776" y="2389" width="147" height="49" fill="#bfbfbf"/>
<rect x="923" y="2389" width="100" height="49" fill="#fff"/>
<rect x="1023" y="2389" width="182" height="49" fill="#595959"/>
<path class="sec" d="M791 2389V2438M835 2389V2438M880 2389V2438M923 2389V2438M925.5 2389V2438M928 2389V2438M959 2389V2438M1023 2389V2438M1053 2389V2438M1058 2389V2438M1063 2389V2438M1068 2389V2438M1110 2389V2438"/>
<rect x="733" y="2389" width="472" height="49" fill="none" stroke="#000" stroke-width="2"/>
<text x="664" y="2442" font-size="22" fill="#000">5’UTR</text>
<path d="M660 2472Q640 2452 648 2428" fill="none" stroke="#ff0000" stroke-width="1.5" marker-end="url(#ah)"/>
<text x="651" y="2495" font-size="23" fill="#ff0000">S-fragment</text>
<text class="gl" transform="translate(758 2447) rotate(-90)" text-anchor="end">L</text>
<text class="gl" transform="translate(791 2447) rotate(-90)" text-anchor="end">VP4</text>
<text class="gl" transform="translate(824 2447) rotate(-90)" text-anchor="end">VP2</text>
<text class="gl" transform="translate(864 2447) rotate(-90)" text-anchor="end">VP3</text>
<text class="gl" transform="translate(912 2447) rotate(-90)" text-anchor="end" style="fill:#ff0000;font-weight:bold">VP1</text>
<text class="gl" transform="translate(953 2447) rotate(-90)" text-anchor="end">2B</text>
<text class="gl" transform="translate(997 2447) rotate(-90)" text-anchor="end">2C</text>
<text class="gl" transform="translate(1047 2447) rotate(-90)" text-anchor="end">3A</text>
<text class="gl" transform="translate(1097 2447) rotate(-90)" text-anchor="end">3C</text>
<text class="gl" transform="translate(1172 2447) rotate(-90)" text-anchor="end">3D</text>
<text class="gl" transform="translate(1214 2447) rotate(-90)" text-anchor="end">3’UTR</text>
<text class="gl" transform="translate(933 2386) rotate(-90)">2A</text>
<text class="gl" transform="translate(1066 2387) rotate(-90)">3B<tspan font-size="14" dy="8">1-3</tspan></text>
</g>
</svg>
